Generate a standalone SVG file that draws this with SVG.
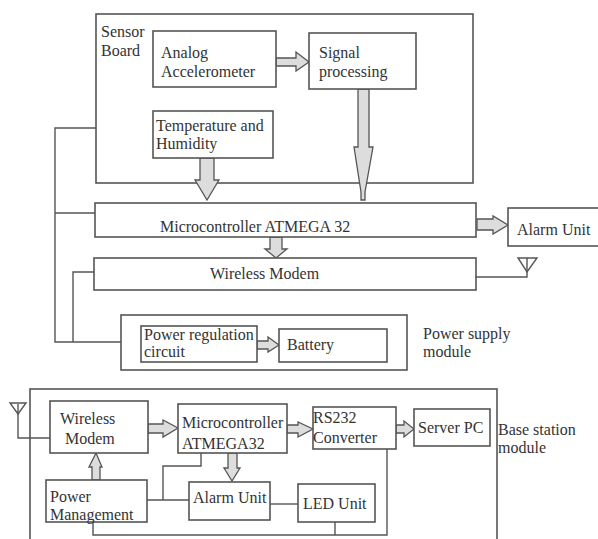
<svg xmlns="http://www.w3.org/2000/svg" width="598" height="539" viewBox="0 0 598 539">
<style>
.box{fill:#fff;stroke:#555;stroke-width:1.6}
.frame{fill:none;stroke:#555;stroke-width:1.6}
.w{fill:none;stroke:#555;stroke-width:1.4}
.ar{fill:#ddd;stroke:#555;stroke-width:1.3;stroke-linejoin:miter}
text{font-family:"Liberation Serif","Times New Roman",serif;font-size:16px;fill:#333}
</style>
<rect width="598" height="539" fill="#fff"/>
<g id="sensor-board"><rect class="frame" x="96" y="14" width="377" height="169"/><text x="101" y="37">Sensor</text><text x="101" y="56">Board</text></g>
<g id="power-supply-module"><rect class="frame" x="121" y="315" width="286" height="55"/><text x="423" y="339">Power supply</text><text x="423" y="357">module</text></g>
<g id="base-station-module"><rect class="frame" x="30" y="389" width="467" height="160"/><text x="498" y="435">Base station</text><text x="498" y="453">module</text></g>
<g id="connectors">
<polyline class="w" points="96,128 55,128 55,342 121,342"/>
<line class="w" x1="55" y1="213" x2="95" y2="213"/>
<polyline class="w" points="94,272 73,272 73,342"/>
<polyline class="w" points="476,277 527,277 527,258"/>
<polygon class="w" points="518,258 537,258 527,272"/>
<polyline class="w" points="50,438 18,438 18,404"/>
<polygon class="w" points="10,403 26,403 18,414"/>
<line class="w" x1="147" y1="500" x2="189" y2="500"/>
<polyline class="w" points="163,500 163,466 201,466 201,453"/>
<line class="w" x1="270" y1="504" x2="298" y2="504"/>
<polyline class="w" points="93,522 93,535 387,535 387,449"/>
<line class="w" x1="335" y1="522" x2="335" y2="535"/>
<polygon class="ar" points="276,58 296,58 296,52 309,62 296,71 296,66 276,66"/>
<polygon class="ar" points="200,158 214,158 214,180 219,180 207,200 195,180 200,180"/>
<polygon class="ar" points="358,89 369,89 369,147 373,147 365,192 365,200 361,200 361,192 354,147 358,147"/>
<polygon class="ar" points="477,219 493,219 493,216 508,225 493,234 493,230 477,230"/>
<polygon class="ar" points="270,237 282,237 282,249 287,249 276,258 265,249 270,249"/>
<polygon class="ar" points="257,341 268,341 268,337 279,345 268,352 268,349 257,349"/>
<polygon class="ar" points="148,424 163,424 163,420 178,428 163,437 163,433 148,433"/>
<polygon class="ar" points="287,425 298,425 298,422 313,429 298,437 298,433 287,433"/>
<polygon class="ar" points="396,425 404,425 404,421 414,429 404,437 404,433 396,433"/>
<polygon class="ar" points="92,480 100,480 100,467 102,467 96,453 89,467 92,467"/>
<polygon class="ar" points="228,453 237,453 237,468 240,468 232,481 224,468 228,468"/>
</g>
<g id="analog-accelerometer"><rect class="box" x="153" y="31" width="123" height="56"/><text x="161" y="58">Analog</text><text x="161" y="77">Accelerometer</text></g>
<g id="signal-processing"><rect class="box" x="309" y="33" width="107" height="56"/><text x="319" y="58">Signal</text><text x="319" y="77">processing</text></g>
<g id="temperature-humidity"><rect class="box" x="153" y="111" width="120" height="47"/><text x="156" y="131">Temperature and</text><text x="156" y="149">Humidity</text></g>
<g id="microcontroller"><rect class="box" x="95" y="203" width="381" height="34"/><text x="160" y="232">Microcontroller ATMEGA 32</text></g>
<g id="alarm-unit"><rect class="box" x="508" y="208" width="92" height="38"/><text x="517" y="235">Alarm Unit</text></g>
<g id="wireless-modem"><rect class="box" x="94" y="258" width="382" height="32"/><text x="210" y="279">Wireless Modem</text></g>
<g id="power-regulation"><rect class="box" x="141" y="326" width="116" height="36"/><text x="144" y="340">Power regulation</text><text x="144" y="357">circuit</text></g>
<g id="battery"><rect class="box" x="279" y="329" width="108" height="33"/><text x="287" y="350">Battery</text></g>
<g id="bs-wireless-modem"><rect class="box" x="50" y="401" width="98" height="52"/><text x="60" y="424">Wireless</text><text x="65" y="444">Modem</text></g>
<g id="bs-microcontroller"><rect class="box" x="178" y="404" width="109" height="49"/><text x="182" y="428">Microcontroller</text><text x="182" y="449">ATMEGA32</text></g>
<g id="rs232"><rect class="box" x="313" y="407" width="83" height="42"/><text x="313" y="423">RS232</text><text x="313" y="443">Converter</text></g>
<g id="server-pc"><rect class="box" x="414" y="409" width="76" height="37"/><text x="418" y="433">Server PC</text></g>
<g id="power-management"><rect class="box" x="46" y="480" width="101" height="42"/><text x="50" y="502">Power</text><text x="50" y="520">Management</text></g>
<g id="bs-alarm-unit"><rect class="box" x="189" y="482" width="81" height="38"/><text x="193" y="503">Alarm Unit</text></g>
<g id="led-unit"><rect class="box" x="298" y="484" width="77" height="38"/><text x="303" y="509">LED Unit</text></g>
</svg>
